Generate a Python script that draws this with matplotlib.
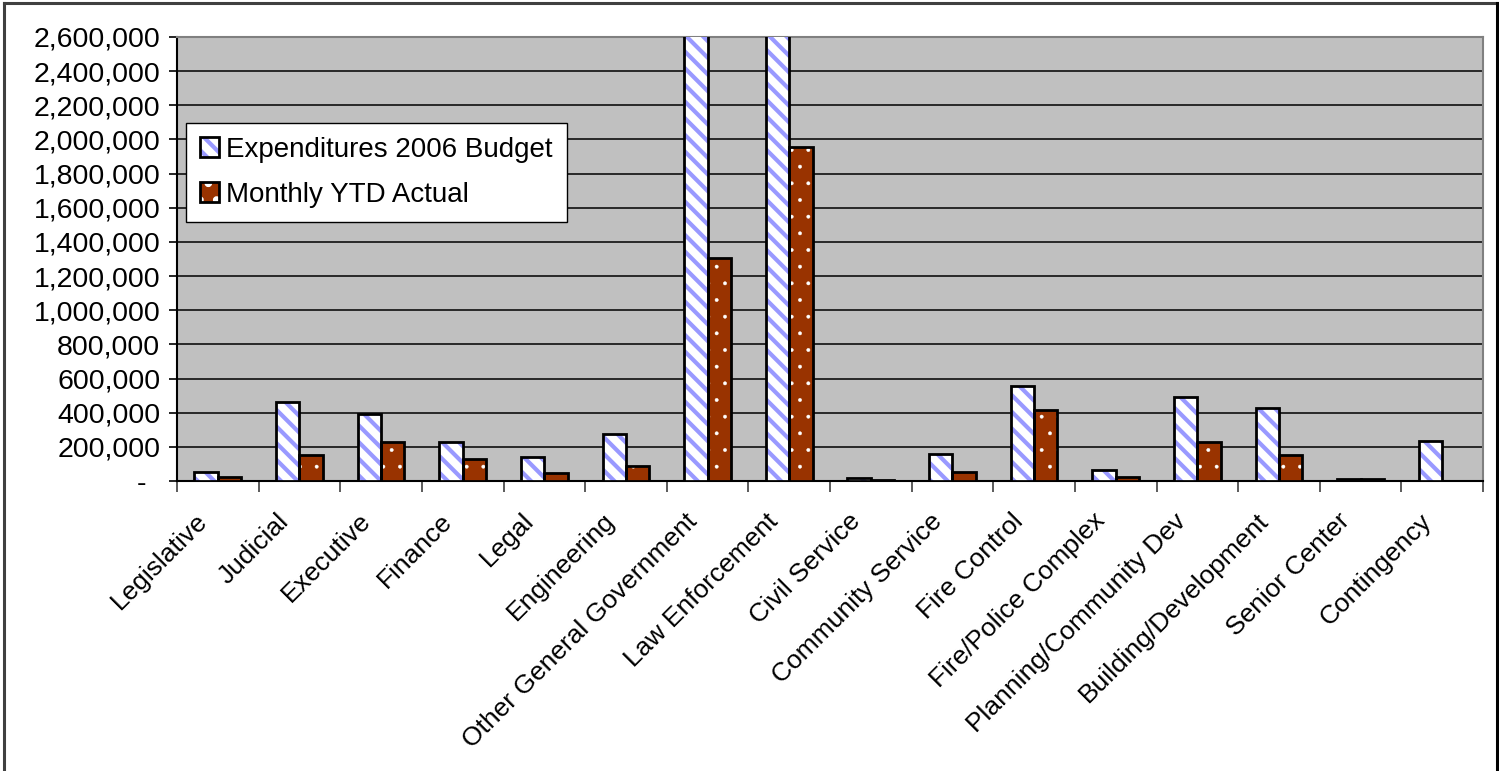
import matplotlib
matplotlib.use("Agg")
import matplotlib.pyplot as plt
import matplotlib.transforms as mtransforms
from matplotlib.lines import Line2D
from matplotlib.legend_handler import HandlerTuple
from matplotlib.ticker import FuncFormatter
import numpy as np

categories = ["Legislative", "Judicial", "Executive", "Finance", "Legal",
              "Engineering", "Other General Government", "Law Enforcement",
              "Civil Service", "Community Service", "Fire Control",
              "Fire/Police Complex", "Planning/Community Dev",
              "Building/Development", "Senior Center", "Contingency"]
# the two tallest budget bars run past the top of the axis
budget = [54000, 460000, 392000, 230000, 138000, 276000, 3000000, 3600000,
          16000, 160000, 558000, 62000, 494000, 426000, 10000, 236000]
actual = [26000, 152000, 226000, 130000, 46000, 90000, 1306000, 1955000,
          8000, 50000, 416000, 26000, 226000, 152000, 10000, 0]
y_ticks = list(range(0, 2600001, 200000))

plt.rcParams['font.family'] = ['Liberation Sans', 'DejaVu Sans']
plt.rcParams['hatch.linewidth'] = 3.0

fig = plt.figure(figsize=(14.99, 7.71), dpi=100)
ax = fig.add_axes([177 / 1499, 1 - 481 / 771, (1483 - 177) / 1499, (481 - 37) / 771])
ax.set_facecolor('#C0C0C0')

x = np.arange(len(categories))
w = 0.287


def layered_bars(pos, vals, face, hatch, hatch_col, hatch_lw):
    base = ax.bar(pos, vals, w, color=face, linewidth=0, zorder=3)
    with plt.rc_context({'hatch.linewidth': hatch_lw}):
        hat = ax.bar(pos, vals, w, color='none', edgecolor=hatch_col,
                     hatch=hatch, linewidth=0, zorder=4)
        for p in hat:
            if hasattr(p, 'set_hatch_linewidth'):
                p.set_hatch_linewidth(hatch_lw)
    edge = ax.bar(pos, vals, w, color='none', edgecolor='black',
                  linewidth=2.0, zorder=5)
    return base, hat, edge


b_set = layered_bars(x - w / 2, budget, 'white', '\\\\', '#9999FF', 3.0)
a_set = layered_bars(x + w / 2, actual, '#993300', '.', 'white', 0.3)

ax.set_xlim(-0.5, len(categories) - 0.5)
ax.set_ylim(0, 2600000)
ax.set_yticks(y_ticks)
ax.yaxis.set_major_formatter(FuncFormatter(lambda v, p: '-' if v == 0 else f'{int(v):,}'))
ax.grid(axis='y', color='black', linewidth=1.1, zorder=1)
ax.set_axisbelow(True)

# category boundaries carry the tick marks, labels sit on the centres
ax.set_xticks(np.arange(-0.5, len(categories)), minor=False)
ax.set_xticklabels([])
ax.set_xticks(x, minor=True)
ax.set_xticklabels(categories, minor=True, rotation=45, ha='right',
                   rotation_mode='anchor', fontsize=19)
ax.tick_params(axis='x', which='major', length=8, width=1.2, color='#404040', direction='out')
ax.tick_params(axis='x', which='minor', length=0, pad=20)
ax.tick_params(axis='y', length=6, width=1.2, color='black', labelsize=20.5, pad=6)

shift = mtransforms.ScaledTranslation(-23 / 100, 0, fig.dpi_scale_trans)
for lab in ax.get_xticklabels(minor=True):
    lab.set_transform(lab.get_transform() + shift)
zero_shift = mtransforms.ScaledTranslation(-14 / 100, 0, fig.dpi_scale_trans)
ylabs = ax.get_yticklabels()
ylabs[0].set_transform(ylabs[0].get_transform() + zero_shift)

for s in ['left', 'bottom']:
    ax.spines[s].set_color('black')
    ax.spines[s].set_linewidth(1.5)
for s in ['top', 'right']:
    ax.spines[s].set_color('#808080')
    ax.spines[s].set_linewidth(1.5)

leg = fig.legend([b_set, a_set], ['Expenditures 2006 Budget', 'Monthly YTD Actual'],
                 handler_map={tuple: HandlerTuple(ndivide=1)},
                 loc='upper left', bbox_to_anchor=(186 / 1499, 1 - 123 / 771),
                 borderaxespad=0, fontsize=20, frameon=True, fancybox=False,
                 edgecolor='black', facecolor='white', framealpha=1,
                 handlelength=0.7, handleheight=0.7, handletextpad=0.25,
                 labelspacing=0.68, borderpad=0.5)
leg.get_frame().set_linewidth(1.0)
leg.set_zorder(10)

# outer chart border (left, top, right only in the reference)
fig.add_artist(Line2D([4 / 1499, 4 / 1499], [0, 1 - 3 / 771], transform=fig.transFigure,
                      color='#404040', linewidth=2.2))
fig.add_artist(Line2D([4 / 1499, 1497 / 1499], [1 - 3 / 771, 1 - 3 / 771],
                      transform=fig.transFigure, color='#404040', linewidth=2.2))
fig.add_artist(Line2D([1497 / 1499, 1497 / 1499], [0, 1 - 3 / 771], transform=fig.transFigure,
                      color='black', linewidth=2.2))

fig.savefig('out.png', dpi=100, facecolor='white')
